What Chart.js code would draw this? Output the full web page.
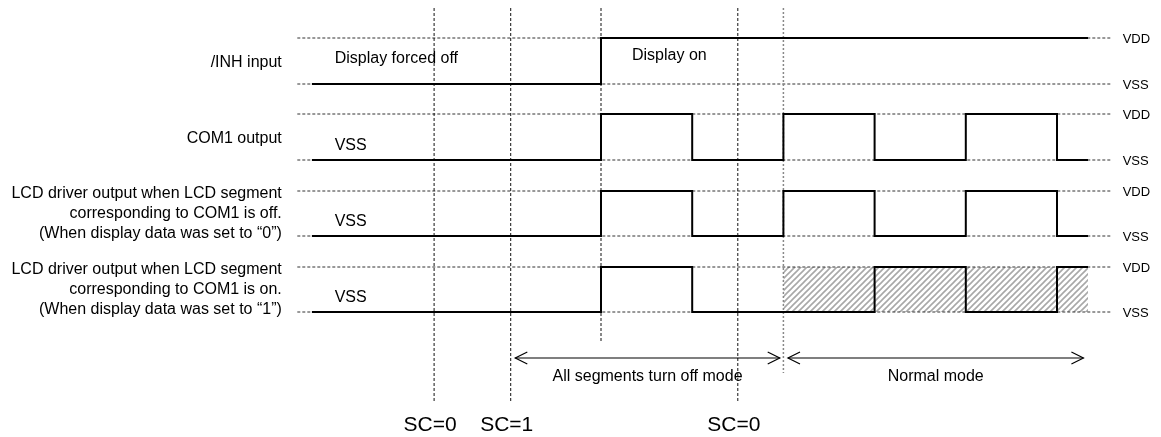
<!DOCTYPE html>
<html>
<head>
<meta charset="utf-8">
<script src="https://cdn.jsdelivr.net/npm/chart.js@4.4.1/dist/chart.umd.min.js"></script>
<style>
  html, body { margin: 0; padding: 0; background: #fff; }
  #wrap { width: 1161px; height: 437px; }
</style>
</head>
<body>
<div id="wrap"><canvas id="timing"></canvas></div>
<script>
// time axis: 1 unit = half a COM1 period, display turns on at t = 0
const edgeTimes    = [-3.17, 0, 1, 2, 3, 4, 5, 5.34];
const inhLevels    = [0, 1, 1, 1, 1, 1, 1, 1];
const com1Levels   = [0, 1, 0, 1, 0, 1, 0, 0];
const segOffLevels = [0, 1, 0, 1, 0, 1, 0, 0];
const segOnLevels  = [0, 1, 0, 0, 1, 0, 1, 1];

// SC register writes and mode change
const scTimes  = [-1.83, -0.99, 1.5];
const scLabels = ["SC=0", "SC=1", "SC=0"];
const displayOnTime = 0;
const normalTime = 2;

const modeRanges = [[-0.94, 1.96], [2.05, 5.29]];
const modeLabels = ["All segments turn off mode", "Normal mode"];

const rowLabels = [
	["/INH input"],
	["COM1 output"],
	["LCD driver output when LCD segment", "corresponding to COM1 is off.", "(When display data was set to \u201c0\u201d)"],
	["LCD driver output when LCD segment", "corresponding to COM1 is on.", "(When display data was set to \u201c1\u201d)"]
];

// layout (y in pixels of the 437px canvas)
const rowVdd = [38, 114, 191, 267];
const rowVss = [84, 160, 236, 312];
const refStart = -3.33, refEnd = 5.6;
const unitPx = 91.2, originPx = 601;

function levelY(row, lvl) {
	return rowVss[row] - lvl * (rowVss[row] - rowVdd[row]);
}

function signal(row, levels) {
	return {
		data: edgeTimes.map((t, i) => ({ x: t, y: levelY(row, levels[i]) })),
		stepped: "before",
		borderColor: "#000",
		borderWidth: 2,
		order: 0
	};
}

function segment(x1, y1, x2, y2, color, width, dash, order) {
	return {
		data: [{ x: x1, y: y1 }, { x: x2, y: y2 }],
		borderColor: color,
		borderWidth: width,
		borderDash: dash,
		order: order
	};
}

function hatch() {
	const c = document.createElement("canvas");
	c.width = 6; c.height = 6;
	const g = c.getContext("2d");
	g.strokeStyle = "#a8a8a8";
	g.lineWidth = 1.6;
	g.beginPath();
	g.moveTo(0, 6); g.lineTo(6, 0);
	g.moveTo(-3, 3); g.lineTo(3, -3);
	g.moveTo(3, 9); g.lineTo(9, 3);
	g.stroke();
	return g.createPattern(c, "repeat");
}

const datasets = [];

// signals
datasets.push(signal(0, inhLevels));
datasets.push(signal(1, com1Levels));
datasets.push(signal(2, segOffLevels));
datasets.push(signal(3, segOnLevels));

// "don't care" area of the last waveform
datasets.push({
	data: [{ x: normalTime, y: rowVdd[3] }, { x: edgeTimes[edgeTimes.length - 1], y: rowVdd[3] }],
	borderWidth: 0,
	backgroundColor: hatch(),
	fill: { value: rowVss[3] },
	order: 5
});

// VDD / VSS reference lines
for (let r = 0; r < 4; r++) {
	datasets.push(segment(refStart, rowVdd[r], refEnd, rowVdd[r], "#333", 1, [3, 2], 3));
	datasets.push(segment(refStart, rowVss[r], refEnd, rowVss[r], "#333", 1, [3, 2], 3));
}

// vertical markers
for (const t of scTimes) {
	datasets.push(segment(t, 8, t, 403, "#111", 1, [3, 2], 2));
}
datasets.push(segment(displayOnTime, 8, displayOnTime, 343, "#111", 1, [3, 2], 2));
datasets.push(segment(normalTime, 8, normalTime, 373, "#888", 1.5, [2, 2], 2));

// mode arrows
const arrowY = 358, headDx = 0.132, headDy = 6;
for (const [a, b] of modeRanges) {
	datasets.push(segment(a, arrowY, b, arrowY, "#000", 1.2, [], 1));
	datasets.push({ data: [{ x: a + headDx, y: arrowY - headDy }, { x: a, y: arrowY }, { x: a + headDx, y: arrowY + headDy }], borderColor: "#000", borderWidth: 1.2, order: 1 });
	datasets.push({ data: [{ x: b - headDx, y: arrowY - headDy }, { x: b, y: arrowY }, { x: b - headDx, y: arrowY + headDy }], borderColor: "#000", borderWidth: 1.2, order: 1 });
}

const FONT = "'Liberation Sans', Arial, sans-serif";

const textPlugin = {
	id: "timingText",
	afterDatasetsDraw(chart) {
		const ctx = chart.ctx;
		const xs = chart.scales.x;
		const px = t => xs.getPixelForValue(t);
		ctx.save();
		ctx.fillStyle = "#000";
		ctx.textBaseline = "middle";

		// row names on the left
		ctx.font = "16px " + FONT;
		ctx.textAlign = "right";
		const lblX = px(-3.5);
		rowLabels.forEach((lines, r) => {
			const mid = (rowVdd[r] + rowVss[r]) / 2 + (lines.length > 1 ? 0 : 2);
			lines.forEach((s, i) => {
				ctx.fillText(s, lblX, mid + (i - (lines.length - 1) / 2) * 20);
			});
		});

		// texts inside the waveforms
		ctx.textAlign = "left";
		ctx.fillText("Display forced off", px(-2.92), 59);
		ctx.fillText("Display on", px(0.34), 56);
		for (let r = 1; r < 4; r++) {
			ctx.fillText("VSS", px(-2.92), rowVss[r] - 14);
		}

		// levels on the right
		ctx.font = "13px " + FONT;
		for (let r = 0; r < 4; r++) {
			ctx.fillText("VDD", px(5.72), rowVdd[r] + 1);
			ctx.fillText("VSS", px(5.72), rowVss[r] + 1);
		}

		// modes
		ctx.font = "16px " + FONT;
		ctx.textAlign = "center";
		modeRanges.forEach((rg, i) => {
			ctx.fillText(modeLabels[i], px((rg[0] + rg[1]) / 2), 377);
		});

		// SC labels
		ctx.font = "21px " + FONT;
		scTimes.forEach((t, i) => {
			ctx.fillText(scLabels[i], px(t) - 4, 425);
		});
		ctx.restore();
	}
};

new Chart(document.getElementById("timing"), {
	type: "line",
	data: { datasets: datasets },
	options: {
		responsive: true,
		maintainAspectRatio: false,
		animation: false,
		events: [],
		layout: { padding: 0 },
		elements: { point: { radius: 0 }, line: { tension: 0, fill: false } },
		plugins: { legend: { display: false }, tooltip: { enabled: false } },
		scales: {
			x: { type: "linear", display: false, min: -originPx / unitPx, max: (1161 - originPx) / unitPx },
			y: { type: "linear", display: false, min: 0, max: 437, reverse: true }
		}
	},
	plugins: [textPlugin]
});
</script>
</body>
</html>
